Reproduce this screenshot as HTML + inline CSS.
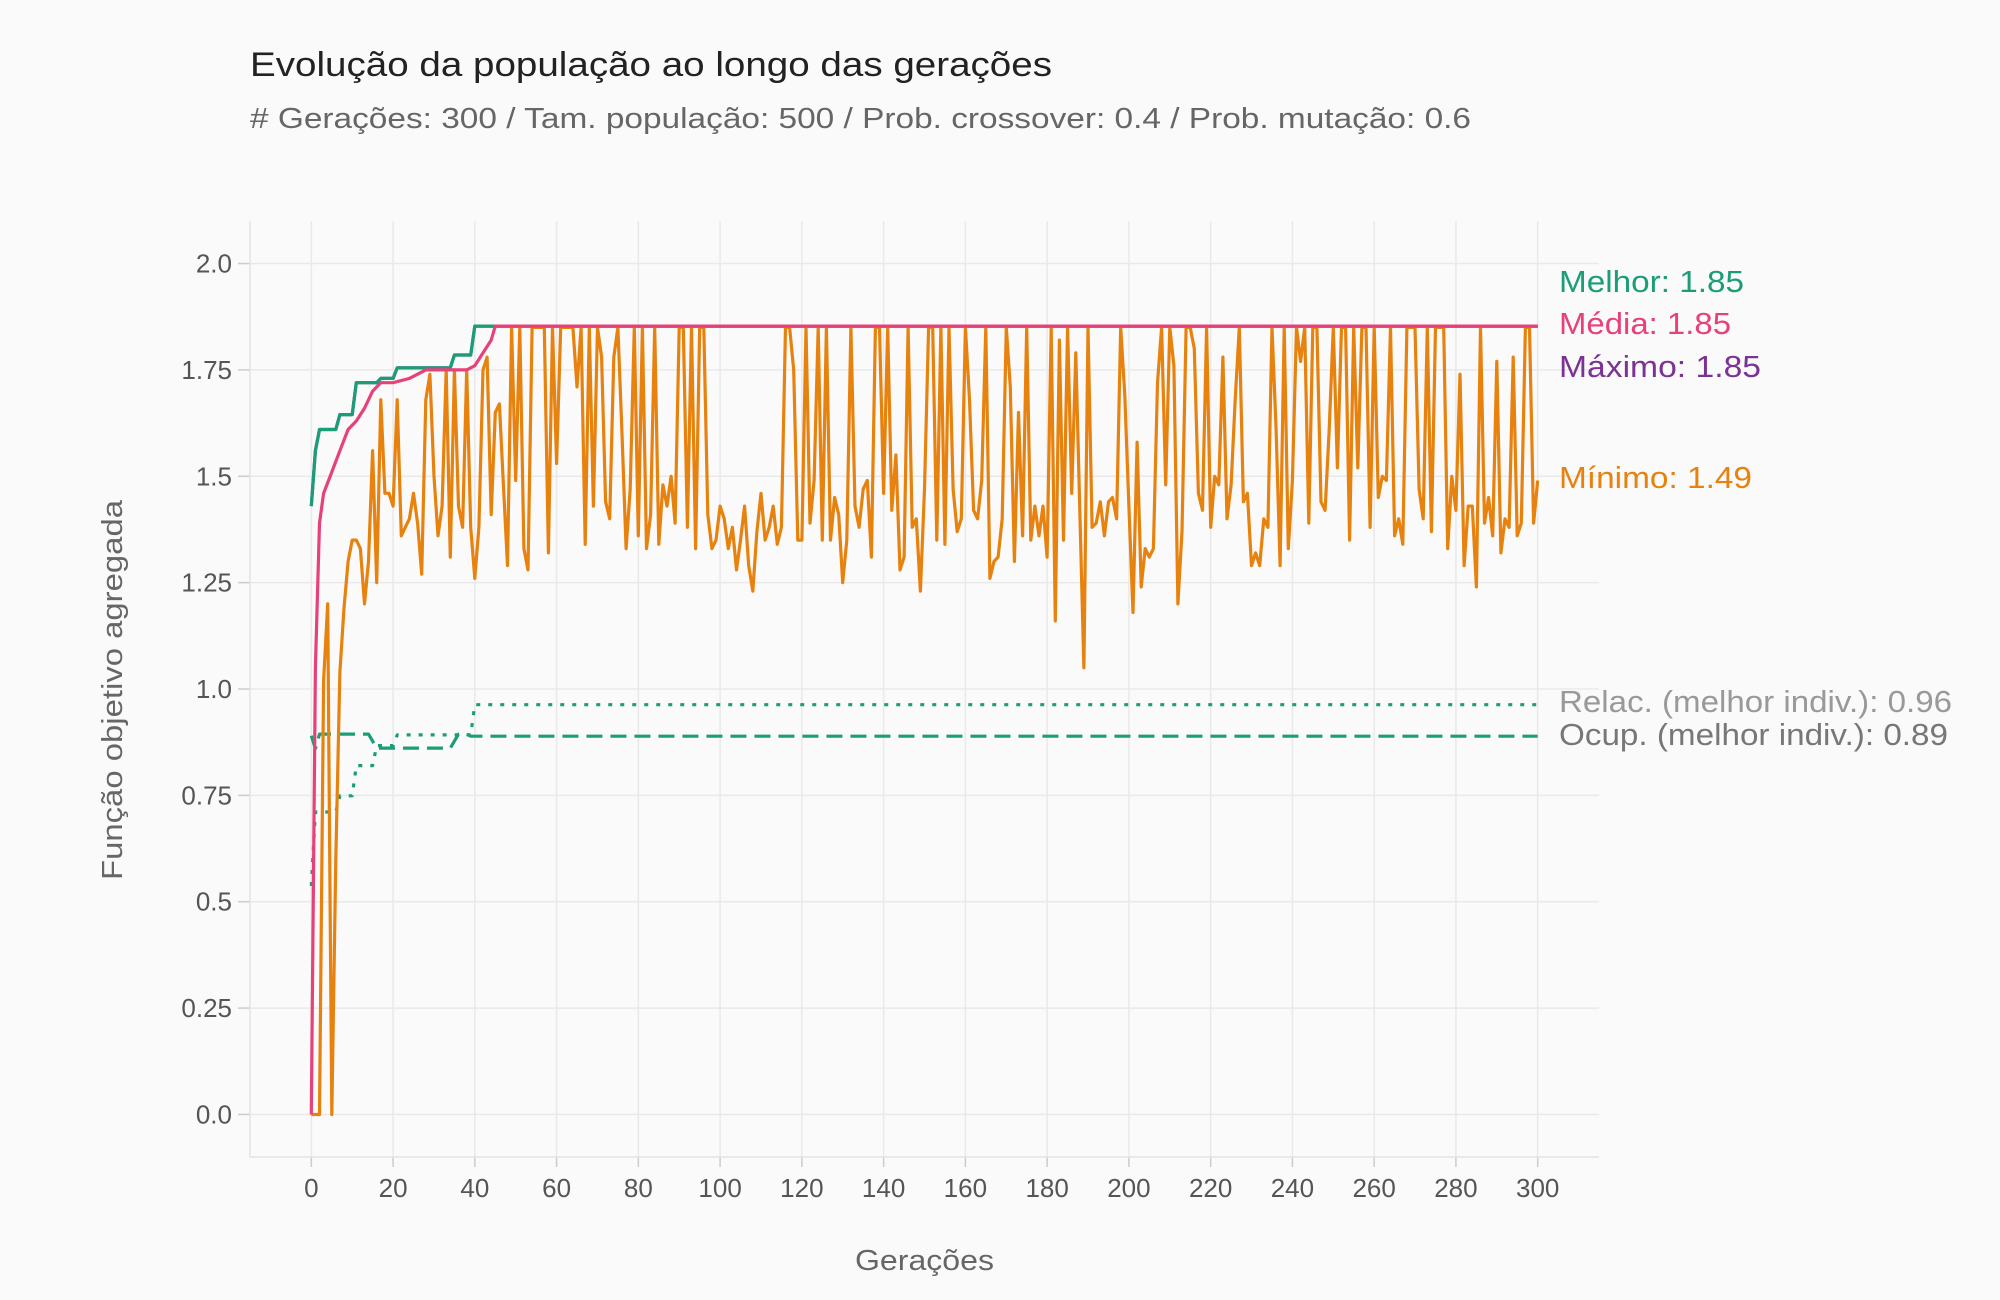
<!DOCTYPE html>
<html><head><meta charset="utf-8">
<style>
html,body{margin:0;padding:0;background:#fafafa;}
svg{display:block;font-family:"Liberation Sans",sans-serif;}
</style></head>
<body>
<svg id="chart" width="2000" height="1300" viewBox="0 0 2000 1300">
<rect x="0" y="0" width="2000" height="1300" fill="#fafafa"/>
<text x="250" y="76" font-size="34" fill="#222" textLength="802" lengthAdjust="spacingAndGlyphs">Evolução da população ao longo das gerações</text>
<text x="250" y="128" font-size="29" fill="#666" textLength="1221" lengthAdjust="spacingAndGlyphs"># Gerações: 300 / Tam. população: 500 / Prob. crossover: 0.4 / Prob. mutação: 0.6</text>
<g id="grid"></g>
<g id="axes"></g>
<g id="series"></g>
<g id="labels"></g>
<text x="855" y="1270" font-size="29" fill="#666" textLength="139" lengthAdjust="spacingAndGlyphs">Gerações</text>
<text transform="translate(122,880) rotate(-90)" font-size="29" fill="#666" textLength="380" lengthAdjust="spacingAndGlyphs">Função objetivo agregada</text>
</svg>
<script>
const xTicks = [0,20,40,60,80,100,120,140,160,180,200,220,240,260,280,300];
const yTicks = [0,0.25,0.5,0.75,1.0,1.25,1.5,1.75,2.0];
const yTickLabels = ["0.0","0.25","0.5","0.75","1.0","1.25","1.5","1.75","2.0"];
const bestPts = [[0,1.43],[1,1.56],[2,1.61],[6,1.61],[7,1.645],[10,1.645],[11,1.72],[16,1.72],[17,1.73],[20,1.73],[21,1.755],[34,1.755],[35,1.785],[39,1.785],[40,1.853],[300,1.853]];
const meanPts = [[0,0],[1,1.05],[2,1.39],[3,1.46],[5,1.51],[7,1.56],[9,1.61],[11,1.63],[13,1.66],[15,1.70],[17,1.72],[20,1.72],[24,1.73],[28,1.75],[38,1.75],[40,1.76],[42,1.79],[44,1.82],[45,1.853],[300,1.853]];
const ocupPts = [[0,0.89],[1,0.86],[2,0.894],[14,0.894],[16,0.861],[34,0.861],[36,0.894],[38,0.894],[39,0.889],[300,0.889]];
const relacPts = [[0,0.537],[1,0.711],[6,0.711],[7,0.749],[10,0.749],[11,0.82],[15,0.82],[16,0.867],[20,0.867],[21,0.892],[39,0.892],[40,0.963],[300,0.963]];
const minVals = [0,0,0,1.02,1.20,0,0.6,1.04,1.19,1.30,1.35,1.35,1.33,1.20,1.30,1.56,1.25,1.68,1.46,1.46,
1.43,1.68,1.36,1.38,1.40,1.46,1.39,1.27,1.68,1.74,1.50,1.36,1.43,1.75,1.31,1.75,1.43,1.38,1.75,1.38,
1.26,1.38,1.75,1.78,1.41,1.65,1.67,1.48,1.29,1.85,1.49,1.85,1.33,1.28,1.85,1.85,1.85,1.85,1.32,1.85,
1.53,1.85,1.85,1.85,1.85,1.71,1.85,1.34,1.85,1.43,1.85,1.78,1.44,1.40,1.78,1.85,1.60,1.33,1.47,1.85,
1.36,1.85,1.33,1.41,1.85,1.34,1.48,1.43,1.50,1.39,1.85,1.85,1.38,1.85,1.33,1.85,1.85,1.41,1.33,1.35,
1.43,1.40,1.33,1.38,1.28,1.35,1.43,1.29,1.23,1.37,1.46,1.35,1.38,1.43,1.34,1.38,1.85,1.85,1.75,1.35,
1.35,1.85,1.39,1.49,1.85,1.35,1.85,1.35,1.45,1.41,1.25,1.35,1.85,1.43,1.38,1.47,1.49,1.31,1.85,1.85,
1.46,1.85,1.42,1.55,1.28,1.31,1.85,1.38,1.40,1.23,1.47,1.85,1.85,1.35,1.85,1.34,1.85,1.47,1.37,1.40,
1.85,1.68,1.42,1.40,1.49,1.85,1.26,1.30,1.31,1.40,1.85,1.71,1.30,1.65,1.36,1.85,1.35,1.43,1.36,1.43,
1.31,1.85,1.16,1.82,1.35,1.85,1.46,1.79,1.42,1.05,1.85,1.38,1.39,1.44,1.36,1.44,1.45,1.40,1.85,1.69,
1.43,1.18,1.58,1.24,1.33,1.31,1.33,1.72,1.85,1.48,1.85,1.76,1.20,1.37,1.85,1.85,1.80,1.46,1.42,1.85,
1.38,1.50,1.48,1.78,1.40,1.48,1.68,1.85,1.44,1.46,1.29,1.32,1.29,1.40,1.38,1.85,1.61,1.29,1.85,1.33,
1.49,1.85,1.77,1.85,1.39,1.85,1.85,1.44,1.42,1.61,1.85,1.52,1.85,1.85,1.35,1.85,1.52,1.85,1.85,1.38,
1.85,1.45,1.50,1.49,1.85,1.36,1.40,1.34,1.85,1.85,1.85,1.47,1.40,1.85,1.37,1.85,1.85,1.85,1.33,1.50,
1.42,1.74,1.29,1.43,1.43,1.24,1.85,1.39,1.45,1.36,1.77,1.32,1.40,1.38,1.78,1.36,1.39,1.85,1.85,1.39,
1.49];
const endLabels = ["Melhor: 1.85","Média: 1.85","Máximo: 1.85","Mínimo: 1.49","Relac. (melhor indiv.): 0.96","Ocup. (melhor indiv.): 0.89"];

const NS = "http://www.w3.org/2000/svg";
const PL = 250, PR = 1599, PT = 221, PB = 1157;
const X0 = -15, X1 = 315, Y0 = -0.10, Y1 = 2.10;
function xs(v){ return PL + (v - X0) / (X1 - X0) * (PR - PL); }
function ys(v){ return PB - (v - Y0) / (Y1 - Y0) * (PB - PT); }
function mk(tag, attrs, parent){ const e = document.createElementNS(NS, tag); for (const k in attrs) e.setAttribute(k, attrs[k]); parent.appendChild(e); return e; }

const grid = document.getElementById('grid');
const axes = document.getElementById('axes');
xTicks.forEach(t => {
  const g = mk('line', {x1: xs(t), x2: xs(t), y1: PT, y2: PB, stroke: '#e9e9e9', 'stroke-width': 1.5}, grid);
  
  
  const tk = mk('line', {x1: xs(t), x2: xs(t), y1: PB, y2: PB + 10, stroke: '#ccc', 'stroke-width': 1.5}, axes);
  
  
  const lb = mk('text', {x: xs(t), y: PB + 40, 'font-size': 26, fill: '#555', 'text-anchor': 'middle'}, axes);
  lb.textContent = t;
  
  
});
yTicks.forEach((t, i) => {
  const g = mk('line', {x1: PL, x2: PR, y1: ys(t), y2: ys(t), stroke: '#e9e9e9', 'stroke-width': 1.5}, grid);
  
  
  const tk = mk('line', {x1: PL - 12, x2: PL, y1: ys(t), y2: ys(t), stroke: '#ccc', 'stroke-width': 1.5}, axes);
  
  
  const lb = mk('text', {x: PL - 18, y: ys(t) + 9, 'font-size': 26, fill: '#555', 'text-anchor': 'end'}, axes);
  lb.textContent = yTickLabels[i];
  
  
});
const ax1 = mk('line', {x1: PL, x2: PL, y1: PT, y2: PB, stroke: '#e3e3e3', 'stroke-width': 1.5}, axes);


const ax2 = mk('line', {x1: PL, x2: PR, y1: PB, y2: PB, stroke: '#e3e3e3', 'stroke-width': 1.5}, axes);



const series = document.getElementById('series');
function drawPts(pts, color, dash, name){
  const d = pts.map((p, i) => (i ? 'L' : 'M') + xs(p[0]).toFixed(1) + ',' + ys(p[1]).toFixed(1)).join(' ');
  const attrs = {d: d, fill: 'none', stroke: color, 'stroke-width': 3.2, 'stroke-linejoin': 'round'};
  if (dash) attrs['stroke-dasharray'] = dash;
  const p = mk('path', attrs, series);
  
  
}
drawPts(relacPts, '#1b9e77', '4,8', 'relac-line');
drawPts(ocupPts, '#1b9e77', '16,8', 'ocup-line');
drawPts(bestPts, '#7b3294', null, 'maximo-line');
drawPts(bestPts, '#1b9e77', null, 'melhor-line');
drawPts(minVals.map((v, i) => [i, v]), '#e7820f', null, 'minimo-line');
drawPts(meanPts, '#e7417a', null, 'media-line');

const labels = document.getElementById('labels');
const lc = ['#1b9e77','#e7417a','#7b3294','#e7820f','#999999','#777777'];
const ly = [292, 334, 377, 488, 712, 745];
const lw = [185, 172, 202, 193, 393, 389];
endLabels.forEach((t, i) => {
  const e = mk('text', {x: 1559, y: ly[i], 'font-size': 31, fill: lc[i], textLength: lw[i], lengthAdjust: 'spacingAndGlyphs'}, labels);
  e.textContent = t;
  
  
});
</script>
</body></html>
